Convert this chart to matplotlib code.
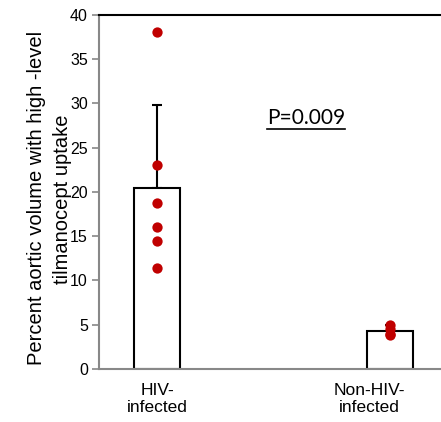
import matplotlib
matplotlib.use("Agg")
import matplotlib.pyplot as plt
from matplotlib.lines import Line2D

groups = ["HIV-\ninfected", "Non-HIV-\ninfected"]
label_pos = [0.0, 1.0]
bar_pos = [0.0, 1.097]
means = [20.4, 4.3]
err_up = [9.4, 0.7]
points = [
    [38.1, 23.1, 18.8, 16.1, 14.5, 11.4],
    [5.0, 4.5, 4.0, 3.8],
]
p_text = "P=0.009"

plt.rcParams["font.family"] = ["Liberation Sans", "DejaVu Sans"]

fig = plt.figure(figsize=(4.41, 4.22), dpi=100)
ax = fig.add_axes([0.2245, 0.1256, 0.7755, 0.8389])

ax.bar(bar_pos, means, width=0.217, color="white", edgecolor="black",
       linewidth=1.5, zorder=2)
ax.errorbar(bar_pos, means, yerr=[[0, 0], err_up], fmt="none", ecolor="black",
            elinewidth=1.5, capsize=3.5, capthick=1.5, zorder=1)
for x, vals in zip(bar_pos, points):
    ax.scatter([x] * len(vals), vals, s=55, color="#C00000", zorder=3,
               linewidths=0)

ax.set_xlim(-0.274, 1.34)
ax.set_ylim(0, 40)
ax.set_yticks(range(0, 41, 5))
ax.set_xticks(label_pos)
ax.set_xticklabels(groups, fontsize=12.5, linespacing=1.15)
ax.tick_params(axis="x", length=0, pad=10)
ax.tick_params(axis="y", direction="out", length=5, width=1.2, color="#888888",
               labelsize=11.5, pad=3)

ax.spines["right"].set_visible(False)
ax.spines["top"].set_color("black")
ax.spines["top"].set_linewidth(1.5)
for s in ["left", "bottom"]:
    ax.spines[s].set_color("#888888")
    ax.spines[s].set_linewidth(1.5)

fig.text(37 / 441, 1 - 198 / 422, "Percent aortic volume with high -level",
         rotation=90, ha="center", va="center", fontsize=14.5)
fig.text(63 / 441, 1 - 199 / 422, "tilmanocept uptake",
         rotation=90, ha="center", va="center", fontsize=14.5)

t = fig.text(306 / 441, 1 - 118 / 422, p_text, ha="center", va="center",
             fontsize=15, family=["Lato", "DejaVu Sans"])
fig.canvas.draw()
bb = t.get_window_extent()
uy = bb.y0 - 1
fig.add_artist(Line2D([bb.x0 / fig.bbox.width, bb.x1 / fig.bbox.width],
                      [uy / fig.bbox.height, uy / fig.bbox.height],
                      color="black", linewidth=1.2))

fig.savefig("out.png", dpi=100)
